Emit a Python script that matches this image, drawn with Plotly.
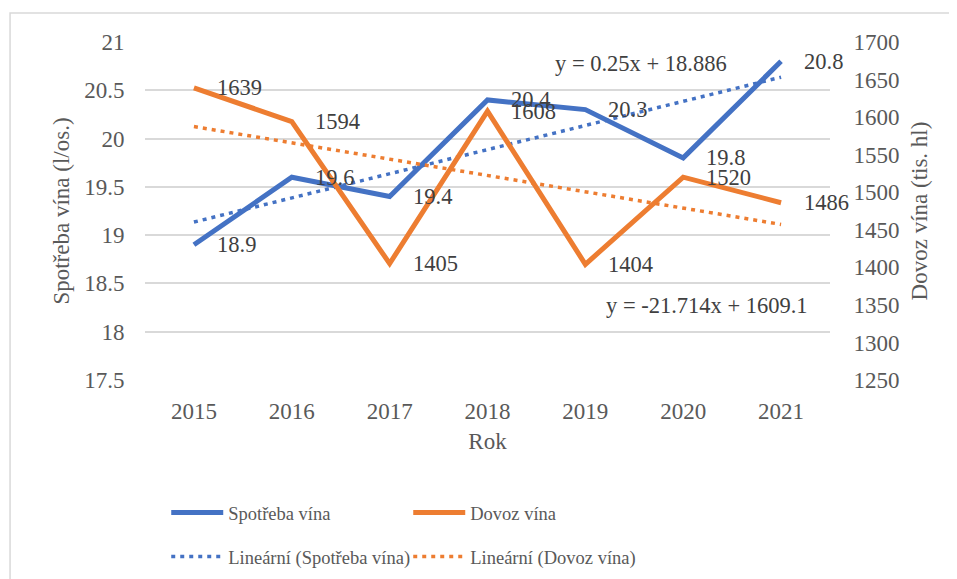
import numpy as np
import plotly.graph_objects as go

years = ["2015", "2016", "2017", "2018", "2019", "2020", "2021"]
spotreba = [18.9, 19.6, 19.4, 20.4, 20.3, 19.8, 20.8]
dovoz = [1639, 1594, 1405, 1608, 1404, 1520, 1486]

BLUE = "#4472C4"
ORANGE = "#ED7D31"
FONT = "Liberation Serif"
TXT = "#595959"
LBL = "#404040"

idx = list(range(len(years)))
xi = np.arange(1, len(years) + 1)
ks, qs = np.polyfit(xi, spotreba, 1)
kd, qd = np.polyfit(xi, dovoz, 1)
trend_s = [float(v) for v in ks * xi + qs]
trend_d = [float(v) for v in kd * xi + qd]

fig = go.Figure()
fig.add_trace(go.Scatter(x=idx, y=spotreba, name="Spotřeba vína", mode="lines",
                         line=dict(color=BLUE, width=5), yaxis="y", legend="legend"))
fig.add_trace(go.Scatter(x=idx, y=dovoz, name="Dovoz vína", mode="lines",
                         line=dict(color=ORANGE, width=5), yaxis="y2", legend="legend"))
fig.add_trace(go.Scatter(x=idx, y=trend_s, name="Lineární (Spotřeba vína)", mode="lines",
                         line=dict(color=BLUE, width=3.5, dash="4px,5px"), yaxis="y", legend="legend2"))
fig.add_trace(go.Scatter(x=idx, y=trend_d, name="Lineární (Dovoz vína)", mode="lines",
                         line=dict(color=ORANGE, width=3.5, dash="4px,5px"), yaxis="y2", legend="legend2"))

ann = []
for x, v in zip(idx, spotreba):
    ann.append(dict(x=x, y=v, xref="x", yref="y", text=f"{v:g}", showarrow=False,
                    xanchor="left", yanchor="middle", xshift=21,
                    font=dict(family=FONT, size=22.5, color=LBL)))
for x, v in zip(idx, dovoz):
    ann.append(dict(x=x, y=v, xref="x", yref="y2", text=f"{v:g}", showarrow=False,
                    xanchor="left", yanchor="middle", xshift=21,
                    font=dict(family=FONT, size=22.5, color=LBL)))
ann.append(dict(x=0.853, y=0.935, xref="paper", yref="paper", showarrow=False,
                xanchor="right", yanchor="middle",
                text=f"y = {ks:.2f}x + {qs:.3f}", font=dict(family=FONT, size=22.5, color=LBL)))
ann.append(dict(x=0.9708, y=0.219, xref="paper", yref="paper", showarrow=False,
                xanchor="right", yanchor="middle",
                text=f"y = {kd:.3f}x + {qd:.1f}", font=dict(family=FONT, size=22.5, color=LBL)))

legend_common = dict(orientation="h", xanchor="left", yanchor="middle",
                     entrywidth=175, entrywidthmode="pixels", itemwidth=52,
                     font=dict(family=FONT, size=18.5, color=TXT), bgcolor="rgba(0,0,0,0)")

fig.update_layout(
    width=957, height=579,
    margin=dict(l=137, r=135, t=34, b=207, autoexpand=False),
    paper_bgcolor="white", plot_bgcolor="white",
    font=dict(family=FONT, size=23, color=TXT),
    xaxis=dict(range=[-0.5, len(years) - 0.5], tickvals=idx, ticktext=years,
               showgrid=False, showline=False, zeroline=False, automargin=False,
               ticks="outside", ticklen=10, tickcolor="rgba(0,0,0,0)",
               tickfont=dict(family=FONT, size=23, color=TXT),
               title=dict(text="Rok", standoff=10, font=dict(family=FONT, size=23, color=TXT))),
    yaxis=dict(range=[17.5, 21], dtick=0.5, showgrid=True, gridcolor="#D9D9D9", gridwidth=1.5,
               zeroline=False, showline=False, automargin=False,
               ticks="outside", ticklen=15, tickcolor="rgba(0,0,0,0)",
               tickfont=dict(family=FONT, size=23, color=TXT),
               title=dict(text="Spotřeba vína (l/os.)", standoff=8, font=dict(family=FONT, size=23, color=TXT))),
    yaxis2=dict(range=[1250, 1700], dtick=50, overlaying="y", side="right", showgrid=False,
                zeroline=False, showline=False, automargin=False,
                ticks="outside", ticklen=18, tickcolor="rgba(0,0,0,0)",
                tickfont=dict(family=FONT, size=23, color=TXT),
                title=dict(text="Dovoz vína (tis. hl)", standoff=12, font=dict(family=FONT, size=23, color=TXT))),
    legend=dict(x=0.031, y=(380 - 513) / 338, **legend_common),
    legend2=dict(x=0.031, y=(380 - 557) / 338, **legend_common),
    annotations=ann,
    shapes=[dict(type="rect", xref="paper", yref="paper", x0=-0.197, x1=1.5, y0=-0.8, y1=1.086,
                 line=dict(color="#D9D9D9", width=1.5), layer="below")],
)

fig.write_html("out.html")
